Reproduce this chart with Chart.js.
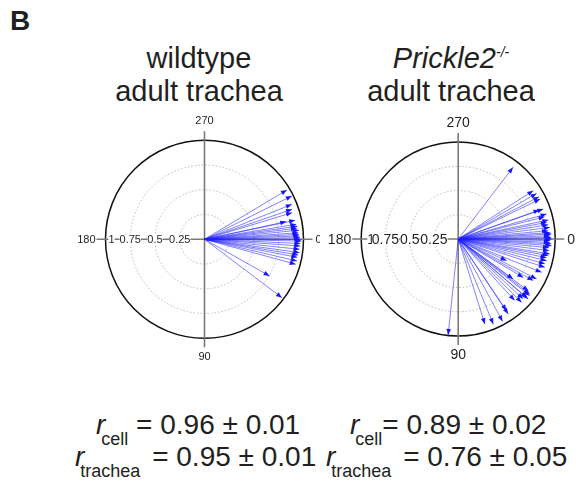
<!DOCTYPE html>
<html>
<head>
<meta charset="utf-8">
<script src="https://cdn.jsdelivr.net/npm/chart.js@4"></script>
<style>
body { margin:0; background:#fff; width:576px; height:487px; position:relative; overflow:hidden;
       font-family:"Liberation Sans", Arial, sans-serif; color:#231f20; }
canvas { position:absolute; }
.txt { position:absolute; white-space:nowrap; }
.title { position:absolute; width:240px; text-align:center; font-size:29px; line-height:33px; }
.title sup { font-size:14px; vertical-align:11px; line-height:0; }
.eq { position:absolute; white-space:nowrap; font-size:28px; line-height:32px; }
.eq sub { font-size:18px; vertical-align:-11px; line-height:0; margin-left:-4px; }
</style>
</head>
<body>
<div class="txt" style="left:10px; top:5px; font-weight:bold; font-size:28px;">B</div>
<div class="title" style="left:79px; top:42px;">wildtype<br>adult trachea</div>
<div class="title" style="left:331px; top:42px;"><i>Prickle2<sup>-/-</sup></i><br>adult trachea</div>

<canvas id="wtChart" width="320" height="280" style="left:0; top:100px;"></canvas>
<canvas id="p2Chart" width="256" height="280" style="left:320px; top:100px;"></canvas>

<div class="eq" style="left:96px; top:409px;"><i>r</i><sub>cell</sub> = 0.96 ± 0.01</div>
<div class="eq" style="left:350px; top:409px;"><i>r</i><sub>cell</sub>= 0.89 ± 0.02</div>
<div class="eq" style="left:75px; top:441px;"><i>r</i><sub style="margin-right:4px">trachea</sub> = 0.95 ± 0.01</div>
<div class="eq" style="left:326px; top:441px;"><i>r</i><sub style="margin-right:4px">trachea</sub> = 0.76 ± 0.05</div>

<script>
// arrow directions in degrees (0 = right, 90 = down, clockwise) and resultant lengths
const wtAngles = [329.1, 333.6, 338.2, 341.1, 343.1, 347.8, 348.2, 350.7, 352, 353.2, 354.5, 356,
                  357, 358, 359, 0, 1, 2.5, 4, 6, 8, 9.5, 11, 13.2, 15.3, 29.4, 37];
const wtLengths = [0.97, 0.985, 0.95, 0.935, 0.925, 0.845, 0.935, 0.94, 0.95, 0.94, 0.96, 0.95,
                   0.955, 0.96, 0.965, 0.97, 0.98, 0.97, 0.97, 0.965, 0.97, 0.96, 0.955, 0.96, 0.955, 0.755, 0.98];

const p2Angles = [307.4, 327.2, 329.8, 332.4, 334, 340.3, 340.6, 344.2, 345.6, 348.1, 349.4, 351,
                  352.8, 354.7, 356, 356.9, 358, 359, 0, 1, 2.1, 3, 4.1, 5.5, 7.3, 9.3, 10.5, 12,
                  13.8, 16, 18.1, 21.8, 24.1, 27, 29, 30.6, 36, 36.4, 37.5, 38.4, 40.5, 40.6, 42.7,
                  45, 47.4, 56, 56.3, 61.7, 67.6, 72.6, 96];
const p2Lengths = [0.93, 0.92, 0.935, 0.94, 0.94, 0.89, 0.93, 0.947, 0.92, 0.95, 0.93, 0.94,
                   0.953, 0.93, 0.95, 0.964, 0.945, 0.96, 0.963, 0.95, 0.945, 0.96, 0.965, 0.94, 0.945, 0.957, 0.944, 0.93,
                   0.94, 0.93, 0.94, 0.926, 0.547, 0.907, 0.885, 0.78, 0.70, 0.90, 0.93, 0.94, 0.93, 0.95, 0.91,
                   0.925, 0.86, 0.89, 0.93, 0.965, 0.95, 0.92, 0.995];

const ringTicks = [0.25, 0.5, 0.75];
const radialTicks = [1, 0.75, 0.5, 0.25];
const radialLabels = ['1', '0.75', '0.5', '0.25'];
const angleLabels = ['0', '90', '180', '270'];

const polarGrid = {
    id: 'polarGrid',
    beforeDatasetsDraw(chart, args, opts) {
        const ctx = chart.ctx;
        const xs = chart.scales.x, ys = chart.scales.y;
        const cx = xs.getPixelForValue(0), cy = ys.getPixelForValue(0);
        const R = xs.getPixelForValue(1) - cx;
        ctx.save();
        // dotted rings
        ctx.setLineDash([1.5, 2]);
        ctx.strokeStyle = '#a8a8a8';
        ctx.lineWidth = 0.8;
        ringTicks.forEach(r => {
            ctx.beginPath();
            ctx.arc(cx, cy, R * r, 0, Math.PI * 2);
            ctx.stroke();
        });
        // outer circle
        ctx.setLineDash([]);
        ctx.strokeStyle = '#111';
        ctx.lineWidth = 1.5;
        ctx.beginPath();
        ctx.arc(cx, cy, R, 0, Math.PI * 2);
        ctx.stroke();
        // axes
        const ext = 9;
        ctx.strokeStyle = '#7a7a7a';
        ctx.lineWidth = 1.6;
        ctx.beginPath();
        ctx.moveTo(cx, cy - R - ext); ctx.lineTo(cx, cy + R + ext);
        ctx.moveTo(cx - R - ext, cy); ctx.lineTo(cx + R + ext, cy);
        ctx.stroke();
        // angle labels
        ctx.fillStyle = '#231f20';
        ctx.font = opts.fontSize + 'px "Liberation Sans", Arial, sans-serif';
        ctx.textBaseline = 'middle';
        ctx.textAlign = 'left';
        ctx.fillText(angleLabels[0], cx + R + 12, cy + 1);
        ctx.textAlign = 'center';
        ctx.fillText(angleLabels[1], cx, cy + R + 19);
        ctx.textAlign = 'right';
        ctx.fillText(angleLabels[2], cx - R - 10, cy + 1);
        ctx.textAlign = 'center';
        ctx.fillText(angleLabels[3], cx, cy - R - 19);
        // radial labels on the 180 axis
        radialTicks.forEach((r, i) => {
            const w = ctx.measureText(radialLabels[i]).width;
            let x = cx - r * R;
            if (r === 1) x += opts.oneShift;
            ctx.fillStyle = '#fff';
            ctx.fillRect(x - w / 2, cy - opts.fontSize / 2, w, opts.fontSize);
            ctx.fillStyle = '#231f20';
            ctx.fillText(radialLabels[i], x, cy + 1);
        });
        ctx.restore();
    },
    afterDatasetsDraw(chart) {
        const ctx = chart.ctx;
        ctx.save();
        ctx.fillStyle = '#1414ff';
        chart.data.datasets.forEach((ds, i) => {
            const meta = chart.getDatasetMeta(i);
            const p0 = meta.data[0], p1 = meta.data[1];
            const ang = Math.atan2(p1.y - p0.y, p1.x - p0.x);
            ctx.save();
            ctx.translate(p1.x, p1.y);
            ctx.rotate(ang);
            ctx.beginPath();
            ctx.moveTo(0, 0);
            ctx.lineTo(-6, -2.3);
            ctx.lineTo(-6, 2.3);
            ctx.closePath();
            ctx.fill();
            ctx.restore();
        });
        ctx.restore();
    }
};

function makePanel(canvasId, cx, cy, R, fontSize, oneShift, angles, lengths) {
    const canvas = document.getElementById(canvasId);
    const left = parseFloat(canvas.style.left), top = parseFloat(canvas.style.top);
    const datasets = angles.map((a, i) => {
        const t = a * Math.PI / 180;
        return {
            data: [{ x: 0, y: 0 }, { x: lengths[i] * Math.cos(t), y: lengths[i] * Math.sin(t) }],
            showLine: true,
            borderColor: 'rgba(30, 30, 255, 0.55)',
            borderWidth: 1,
            pointRadius: 0
        };
    });
    return new Chart(canvas.getContext('2d'), {
        type: 'scatter',
        data: { datasets: datasets },
        options: {
            responsive: false,
            animation: false,
            layout: {
                padding: {
                    left: cx - R - left,
                    right: canvas.width - (cx + R - left),
                    top: cy - R - top,
                    bottom: canvas.height - (cy + R - top)
                }
            },
            scales: {
                x: { type: 'linear', min: -1, max: 1, display: false },
                y: { type: 'linear', min: -1, max: 1, reverse: true, display: false }
            },
            plugins: {
                legend: { display: false },
                tooltip: { enabled: false },
                polarGrid: { fontSize: fontSize, oneShift: oneShift }
            }
        },
        plugins: [polarGrid]
    });
}

makePanel('wtChart', 204.5, 239.3, 99, 11, 6, wtAngles, wtLengths);
makePanel('p2Chart', 458.2, 239, 97, 14, 10, p2Angles, p2Lengths);
</script>
</body>
</html>
